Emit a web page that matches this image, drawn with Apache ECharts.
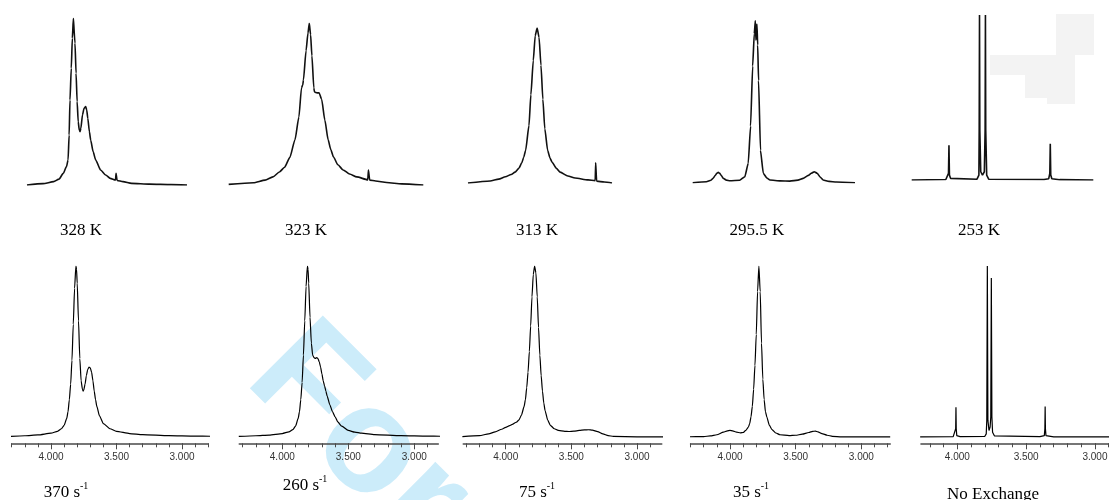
<!DOCTYPE html>
<html><head><meta charset="utf-8">
<script src="https://cdn.jsdelivr.net/npm/echarts@6/dist/echarts.min.js"></script>
<style>html,body{margin:0;padding:0;background:#fff}#c{width:1109px;height:500px}</style>
</head><body><div id="c"></div>
<script>
// ---- tick values / labels ----
const minorTicks = [4.3,4.2,4.1,4.0,3.9,3.8,3.7,3.6,3.5,3.4,3.3,3.2,3.1,3.0,2.9,2.8];
const majorTicks = [4.0,3.5,3.0];
const topLabels = ['328 K','323 K','313 K','295.5 K','253 K'];
const bottomRates = ['370','260','75','35',''];
const bottomTitles = ['','','','','No Exchange'];

// ---- experimental spectra (top row) [ppm, relative intensity] ----
const spec328K = [[4.25,0],[4.10,0.008],[4.00,0.02],[3.95,0.035],[3.91,0.07],[3.88,0.11],[3.865,0.15],[3.855,0.30],[3.847,0.51],[3.835,0.70],[3.825,0.88],[3.815,1.0],[3.81,1.0],[3.80,0.85],[3.79,0.67],[3.78,0.50],[3.77,0.38],[3.76,0.33],[3.753,0.32],[3.745,0.34],[3.73,0.42],[3.715,0.46],[3.70,0.47],[3.69,0.45],[3.68,0.40],[3.665,0.32],[3.653,0.27],[3.63,0.20],[3.606,0.15],[3.56,0.09],[3.513,0.06],[3.47,0.04],[3.42,0.03],[3.415,0.07],[3.41,0.07],[3.405,0.027],[3.35,0.02],[3.27,0.01],[3.10,0.005],[2.90,0.002],[2.75,0]];
const spec323K = [[4.43,0.004],[4.24,0.014],[4.15,0.03],[4.09,0.05],[4.04,0.08],[4.00,0.11],[3.96,0.17],[3.92,0.28],[3.89,0.42],[3.87,0.60],[3.86,0.62],[3.855,0.65],[3.835,0.83],[3.82,0.94],[3.81,1.0],[3.80,0.93],[3.79,0.80],[3.775,0.60],[3.77,0.575],[3.75,0.57],[3.735,0.57],[3.715,0.53],[3.69,0.40],[3.665,0.28],[3.645,0.22],[3.625,0.175],[3.59,0.125],[3.55,0.093],[3.50,0.068],[3.445,0.05],[3.36,0.032],[3.355,0.093],[3.35,0.093],[3.345,0.03],[3.30,0.025],[3.215,0.015],[3.10,0.007],[2.933,0]];
const spec313K = [[4.50,0],[4.27,0.013],[4.18,0.025],[4.11,0.04],[4.05,0.055],[4.01,0.07],[3.97,0.095],[3.94,0.13],[3.92,0.165],[3.90,0.21],[3.865,0.37],[3.845,0.57],[3.82,0.79],[3.80,0.95],[3.78,1.0],[3.76,0.94],[3.74,0.76],[3.72,0.54],[3.70,0.35],[3.67,0.21],[3.645,0.16],[3.625,0.135],[3.58,0.095],[3.54,0.07],[3.46,0.045],[3.385,0.032],[3.25,0.02],[3.175,0.015],[3.17,0.13],[3.165,0.13],[3.16,0.012],[3.08,0.006],[3.00,0]];
const spec295K = [[4.173,0],[4.08,0.006],[4.05,0.015],[4.035,0.027],[4.02,0.045],[4.01,0.058],[4.00,0.064],[3.99,0.058],[3.98,0.045],[3.966,0.027],[3.945,0.016],[3.92,0.012],[3.855,0.015],[3.82,0.037],[3.797,0.12],[3.781,0.35],[3.767,0.72],[3.756,0.92],[3.749,1.0],[3.745,0.88],[3.738,0.98],[3.733,0.85],[3.727,0.63],[3.714,0.20],[3.695,0.058],[3.67,0.028],[3.65,0.017],[3.58,0.011],[3.515,0.01],[3.46,0.016],[3.425,0.027],[3.39,0.045],[3.37,0.058],[3.35,0.068],[3.33,0.058],[3.31,0.035],[3.29,0.017],[3.25,0.008],[3.20,0.004],[3.074,0]];
const spec253K = [[4.249,0],[4.03,0.003],[4.02,0.01],[4.013,0.04],[4.01,0.21],[4.007,0.03],[4.00,0.01],[3.99,0.003],[3.83,0.005],[3.818,0.03],[3.816,0.3],[3.814,1.0],[3.812,0.3],[3.806,0.05],[3.795,0.03],[3.783,0.05],[3.778,0.3],[3.776,1.0],[3.774,0.3],[3.768,0.03],[3.755,0.005],[3.40,0.003],[3.37,0.008],[3.363,0.04],[3.36,0.22],[3.357,0.03],[3.35,0.008],[3.30,0.002],[3.084,0]];

// ---- simulated spectra (bottom row) [ppm, relative intensity] ----
const sim370 = [[4.32,0.005],[4.20,0.009],[4.10,0.014],[4.00,0.024],[3.95,0.035],[3.92,0.05],[3.90,0.07],[3.88,0.11],[3.87,0.15],[3.86,0.22],[3.85,0.31],[3.84,0.45],[3.83,0.66],[3.82,0.87],[3.81,1.0],[3.805,0.98],[3.80,0.90],[3.79,0.68],[3.78,0.46],[3.77,0.33],[3.76,0.28],[3.755,0.27],[3.75,0.275],[3.74,0.31],[3.73,0.36],[3.72,0.395],[3.71,0.41],[3.70,0.405],[3.69,0.38],[3.68,0.33],[3.67,0.27],[3.66,0.22],[3.65,0.18],[3.63,0.125],[3.60,0.08],[3.55,0.05],[3.50,0.035],[3.40,0.022],[3.30,0.016],[3.10,0.010],[2.90,0.007],[2.78,0.006]];
const sim260 = [[4.33,0.005],[4.20,0.009],[4.10,0.013],[4.00,0.022],[3.95,0.032],[3.92,0.045],[3.90,0.065],[3.88,0.11],[3.87,0.15],[3.86,0.22],[3.85,0.32],[3.84,0.48],[3.83,0.68],[3.82,0.88],[3.81,1.0],[3.805,0.98],[3.80,0.90],[3.79,0.70],[3.78,0.55],[3.77,0.48],[3.76,0.465],[3.75,0.46],[3.74,0.465],[3.73,0.46],[3.72,0.44],[3.71,0.41],[3.70,0.37],[3.69,0.33],[3.68,0.30],[3.67,0.27],[3.66,0.24],[3.64,0.19],[3.62,0.15],[3.60,0.12],[3.58,0.09],[3.55,0.065],[3.50,0.04],[3.45,0.03],[3.40,0.024],[3.30,0.016],[3.10,0.010],[2.90,0.007],[2.80,0.006]];
const sim75 = [[4.33,0.004],[4.20,0.01],[4.13,0.02],[4.08,0.032],[4.03,0.047],[4.00,0.058],[3.97,0.068],[3.95,0.075],[3.92,0.088],[3.90,0.10],[3.88,0.13],[3.86,0.18],[3.85,0.22],[3.84,0.29],[3.83,0.38],[3.82,0.50],[3.81,0.65],[3.80,0.82],[3.79,0.95],[3.78,1.0],[3.77,0.96],[3.76,0.82],[3.75,0.64],[3.74,0.48],[3.73,0.36],[3.72,0.27],[3.71,0.20],[3.70,0.155],[3.68,0.10],[3.66,0.07],[3.63,0.05],[3.60,0.04],[3.55,0.035],[3.52,0.034],[3.48,0.036],[3.44,0.04],[3.40,0.043],[3.37,0.044],[3.34,0.042],[3.30,0.033],[3.26,0.02],[3.22,0.01],[3.18,0.005],[3.00,0.003],[2.80,0.003]];
const sim35 = [[4.32,0.003],[4.20,0.004],[4.15,0.008],[4.10,0.015],[4.05,0.03],[4.02,0.038],[4.00,0.04],[3.98,0.038],[3.95,0.03],[3.92,0.026],[3.90,0.028],[3.88,0.04],[3.86,0.06],[3.85,0.08],[3.84,0.12],[3.83,0.18],[3.82,0.28],[3.81,0.42],[3.80,0.60],[3.79,0.85],[3.78,1.0],[3.77,0.85],[3.76,0.55],[3.75,0.34],[3.74,0.22],[3.73,0.15],[3.72,0.12],[3.70,0.07],[3.68,0.045],[3.65,0.025],[3.62,0.015],[3.55,0.01],[3.50,0.012],[3.45,0.018],[3.40,0.028],[3.37,0.035],[3.35,0.036],[3.33,0.032],[3.30,0.022],[3.26,0.012],[3.22,0.006],[3.15,0.003],[2.78,0.003]];
const simNoEx = [[4.27,0.003],[4.03,0.004],[4.016,0.01],[4.012,0.05],[4.010,0.175],[4.008,0.05],[4.004,0.01],[3.98,0.004],[3.80,0.006],[3.79,0.02],[3.786,0.1],[3.782,1.0],[3.778,0.1],[3.77,0.04],[3.767,0.035],[3.762,0.06],[3.757,0.12],[3.753,0.93],[3.749,0.12],[3.744,0.03],[3.73,0.008],[3.40,0.004],[3.368,0.01],[3.364,0.05],[3.362,0.18],[3.360,0.05],[3.356,0.01],[3.30,0.003],[2.78,0.003]];

const topSpectra = [spec328K, spec323K, spec313K, spec295K, spec253K];
const bottomSpectra = [sim370, sim260, sim75, sim35, simNoEx];

// ---- layout ----
const topLayout = [
  {left:27, width:160, top:18.3, height:166.7, min:2.75, max:4.25, smooth:0.2},
  {left:228.3, width:195, top:23.3, height:161.7, min:2.933, max:4.433, smooth:0.2},
  {left:468, width:144, top:28, height:155, min:3.0, max:4.5, smooth:0.2},
  {left:692.7, width:162.3, top:20.7, height:162, min:3.074, max:4.173, smooth:0.15},
  {left:911.7, width:181.6, top:15, height:165, min:3.084, max:4.249, smooth:false}
];
const bottomLayout = [
  {left:11.7, width:196.5, min:2.8, max:4.3, smooth:0.2},
  {left:239.3, width:199, min:2.818, max:4.326, smooth:0.2},
  {left:463.3, width:198.4, min:2.812, max:4.323, smooth:0.2},
  {left:690.6, width:199.6, min:2.78, max:4.30, smooth:0.2},
  {left:921, width:201.5, min:2.8, max:4.264, smooth:false}
];
const topLabelPos = [[81,231],[306,231],[537,231],[757,231],[979,231]];
const bottomLabelPos = [[66,491],[305,484],[537,491],[751,491],[993,493]];

const grid = [], xAxis = [], yAxis = [], series = [];
const serif = '"Liberation Serif", "Times New Roman", serif';

topLayout.forEach((L, i) => {
  grid.push({left:L.left, width:L.width, top:L.top, height:L.height, outerBoundsMode:'none'});
  const g = grid.length - 1;
  xAxis.push({gridIndex:g, type:'value', inverse:true, min:L.min, max:L.max, show:false});
  yAxis.push({gridIndex:g, type:'value', min:0, max:1, show:false});
  series.push({type:'line', xAxisIndex:xAxis.length-1, yAxisIndex:yAxis.length-1,
    data: topSpectra[i], showSymbol:false, symbol:'none', animation:false,
    smooth:L.smooth, smoothMonotone:'x',
    lineStyle:{color:'#111', width:1.6}});
});

bottomLayout.forEach((L, i) => {
  grid.push({left:L.left, width:L.width, top:266, height:177.3, outerBoundsMode:'none'});
  const g = grid.length - 1;
  xAxis.push({gridIndex:g, type:'value', inverse:true, min:L.min, max:L.max, position:'bottom',
    axisLine:{show:true, onZero:false, lineStyle:{color:'#4a4a4a', width:1.6}},
    axisTick:{show:true, customValues:minorTicks, length:4, lineStyle:{color:'#4a4a4a', width:1}},
    axisLabel:{show:false}, splitLine:{show:false}});
  const xi = xAxis.length - 1;
  xAxis.push({gridIndex:g, type:'value', inverse:true, min:L.min, max:L.max, position:'bottom',
    axisLine:{show:false, onZero:false},
    axisTick:{show:true, customValues:majorTicks, length:6, lineStyle:{color:'#4a4a4a', width:1}},
    axisLabel:{show:true, customValues:majorTicks, formatter:v => v.toFixed(3), margin:9,
      fontSize:10, fontFamily:'"Liberation Sans", Arial, sans-serif', color:'#333'},
    splitLine:{show:false}});
  yAxis.push({gridIndex:g, type:'value', min:-0.035, max:1, show:false});
  series.push({type:'line', xAxisIndex:xi, yAxisIndex:yAxis.length-1,
    data: bottomSpectra[i], showSymbol:false, symbol:'none', animation:false,
    smooth:L.smooth, smoothMonotone:'x',
    lineStyle:{color:'#000', width:1.2}});
});

const graphic = [];
// watermark
graphic.push({type:'text', x:219, y:405, rotation:-Math.PI/4, z:-10, silent:true,
  style:{text:'For', font:'bold 150px "Liberation Sans", Arial, sans-serif', fill:'rgba(0,160,230,0.2)',
    align:'left', textAlign:'left', verticalAlign:'bottom', textVerticalAlign:'bottom'}});
// scan artefact shading in 253 K panel
[[1056,14,38,41],[990,55,85,20],[1025,75,50,23],[1047,98,28,6]].forEach(r => {
  graphic.push({type:'rect', z:-20, silent:true, shape:{x:r[0], y:r[1], width:r[2], height:r[3]}, style:{fill:'#f3f3f3'}});
});
topLabels.forEach((t, i) => {
  graphic.push({type:'text', x:topLabelPos[i][0], y:topLabelPos[i][1],
    style:{text:t, fontSize:17, fontFamily:serif, fill:'#000',
      align:'center', textAlign:'center', verticalAlign:'middle', textVerticalAlign:'middle'}});
});
bottomRates.forEach((t, i) => {
  const txt = t ? '{m|' + t + ' s}{s|-1}' : '{m|' + bottomTitles[i] + '}';
  graphic.push({type:'text', x:bottomLabelPos[i][0], y:bottomLabelPos[i][1],
    style:{text:txt, fontSize:17, fontFamily:serif, fill:'#000',
      align:'center', textAlign:'center', verticalAlign:'middle', textVerticalAlign:'middle',
      rich:{m:{fontSize:17, fontFamily:serif, fill:'#000', lineHeight:20, verticalAlign:'bottom'},
            s:{fontSize:10, fontFamily:serif, fill:'#000', lineHeight:20, verticalAlign:'top'}}}});
});

const chart = echarts.init(document.getElementById('c'), null, {renderer:'canvas'});
chart.setOption({animation:false, backgroundColor:'#fff', grid, xAxis, yAxis, series, graphic});
</script></body></html>
